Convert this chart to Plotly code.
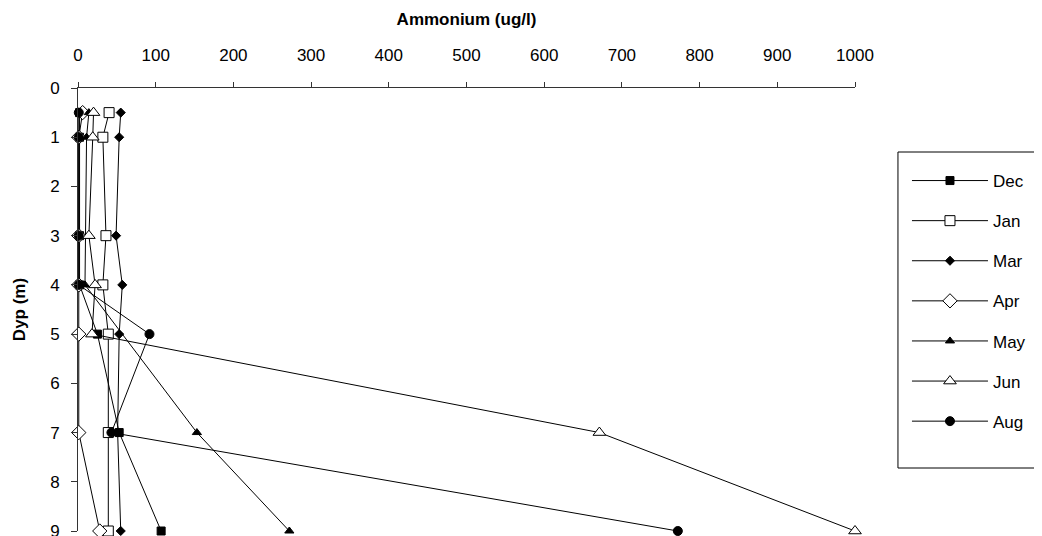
import plotly.graph_objects as go

depths = [0.5, 1, 3, 4, 5, 7, 9]
dec = [2, 2, 2, 2, 25, 53, 107]
jan = [40, 32, 36, 32, 39, 39, 39]
mar = [55, 53, 49, 57, 53, 51, 55]
apr = [6, 1, 1, 1, 1, 1, 28]
may = [14, 11, None, 9, None, 153, 272]
jun = [20, 19, 14, 22, 18, 671, 1000]
aug = [1, 1, 1, 1, 92, 43, 772]

x_ticks = [0, 100, 200, 300, 400, 500, 600, 700, 800, 900, 1000]
y_ticks = [0, 1, 2, 3, 4, 5, 6, 7, 8, 9]

series = [
    ("Dec", dec, "square", "black", 8),
    ("Jan", jan, "square", "white", 10),
    ("Mar", mar, "diamond", "black", 7),
    ("Apr", apr, "diamond", "white", 11),
    ("May", may, "triangle-up", "black", 8),
    ("Jun", jun, "triangle-up", "white", 11),
    ("Aug", aug, "circle", "black", 9),
]

fig = go.Figure()
for name, vals, sym, fill, size in series:
    fig.add_trace(go.Scatter(
        x=vals, y=depths, name=name, mode="lines+markers",
        connectgaps=True, legendgroup=name, cliponaxis=False,
        line=dict(color="black", width=1),
        marker=dict(symbol=sym, size=size, color=fill,
                    line=dict(color="black", width=1)),
    ))

# legend frame
fig.add_shape(type="rect", xref="paper", yref="paper",
              x0=1.0553, x1=1.2381, y0=0.1422, y1=0.8555,
              line=dict(color="black", width=1), fillcolor="rgba(0,0,0,0)")

fig.update_layout(
    width=1042, height=536,
    margin=dict(l=70, r=195, t=80, b=13),
    paper_bgcolor="white", plot_bgcolor="white",
    font=dict(family="Liberation Sans, Arial", size=17, color="black"),
    showlegend=True,
    legend=dict(
        x=1.0669, y=0.8307, xanchor="left", yanchor="top",
        borderwidth=0, bgcolor="rgba(0,0,0,0)",
        traceorder="grouped", tracegroupgap=15,
        itemwidth=76, font=dict(size=17),
    ),
    xaxis=dict(
        side="top", range=[0, 1000], tickvals=x_ticks,
        showgrid=False, zeroline=False, automargin=False,
        showline=True, linecolor="#333", linewidth=1,
        ticks="outside", ticklen=5, tickcolor="#333",
        ticklabelstandoff=14,
        title=dict(text="<b>Ammonium (ug/l)</b>", font=dict(size=17), standoff=16),
    ),
    yaxis=dict(
        range=[9, 0], tickvals=y_ticks,
        showgrid=False, zeroline=False, automargin=False,
        showline=True, linecolor="#333", linewidth=1,
        ticks="outside", ticklen=6, tickcolor="#333",
        ticklabelstandoff=8,
        title=dict(text="<b>Dyp (m)</b>", font=dict(size=17), standoff=20),
    ),
)

fig.write_html("out.html")
